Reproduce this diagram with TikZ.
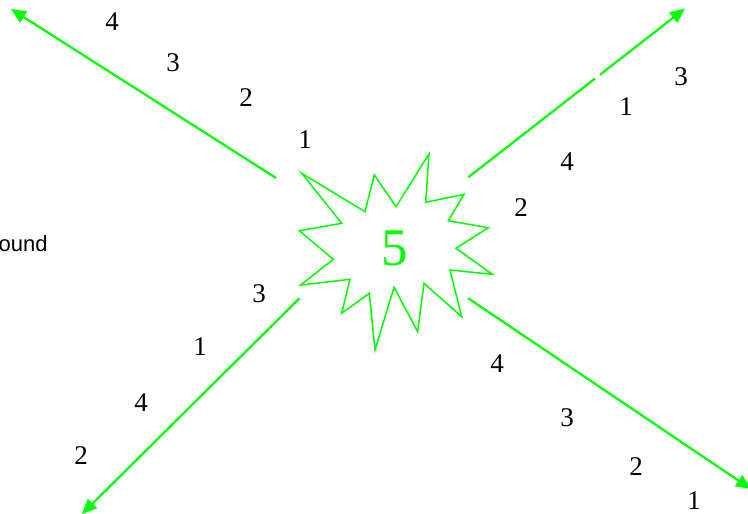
\documentclass[tikz,border=0pt]{standalone}
\usepackage{fontspec}
\setmainfont{Liberation Serif}
\newfontfamily\labsans{Liberation Sans}
\usetikzlibrary{arrows.meta}
\definecolor{burstgreen}{RGB}{0,255,0}
\tikzset{
  numlbl/.style={inner sep=0pt, font=\fontsize{27}{27}\selectfont, text=black},
  ray/.style={draw=burstgreen, line width=2.2pt},
  rayarrow/.style={ray, -{Triangle[length=15pt,width=13pt]}},
  burst/.style={draw=burstgreen, line width=1.5pt, line join=miter},
}
\begin{document}
\begin{tikzpicture}[x=1pt,y=-1pt]
\useasboundingbox (0,0) rectangle (748,514);
\clip (0,0) rectangle (748,514);

% starburst
\draw[burst] (301.7,173.3) -- (365,211.7) -- (374.3,175) -- (396,206.7) -- (429,154)
  -- (425.7,202.3) -- (464,194.3) -- (448.3,220.7) -- (488.3,227.7) -- (456,248.3)
  -- (492.3,274.3) -- (450,270) -- (461.7,316.7) -- (424,283.3) -- (417.7,331.7)
  -- (394,287.3) -- (375,350) -- (369.3,293.3) -- (341.7,313.3) -- (350,279.3)
  -- (300.7,285) -- (333.3,259.3) -- (299.3,230.7) -- (341.7,223.3) -- cycle;
\node[inner sep=0pt, text=burstgreen, font=\fontsize{53}{53}\selectfont] (five) at (394.7,248.3) {5};

% ray coordinates
\coordinate (tl0) at (276,178);
\coordinate (tl1) at (11,9);
\coordinate (tr0) at (468.3,177.3);
\coordinate (trg1) at (595,78.6);
\coordinate (trg2) at (600,74.7);
\coordinate (tr1) at (685,8.5);
\coordinate (bl0) at (299.5,298.3);
\coordinate (bl1) at (82,514);
\coordinate (br0) at (468.3,298.3);
\coordinate (br1) at (751,489);

\draw[rayarrow] (tl0) -- (tl1);
\draw[ray] (tr0) -- (trg1);
\draw[rayarrow] (trg2) -- (tr1);
\draw[rayarrow] (bl0) -- (bl1);
\draw[rayarrow] (br0) -- (br1);

% labels top-left
\node[numlbl] (tla) at (112,22) {4};
\node[numlbl] (tlb) at (173,63) {3};
\node[numlbl] (tlc) at (246,98) {2};
\node[numlbl] (tld) at (305,140) {1};
% labels top-right
\node[numlbl] (tra) at (681,77) {3};
\node[numlbl] (trb) at (626,107) {1};
\node[numlbl] (trc) at (567,162) {4};
\node[numlbl] (trd) at (521,208) {2};
% labels bottom-left
\node[numlbl] (bla) at (259,294) {3};
\node[numlbl] (blb) at (200,347) {1};
\node[numlbl] (blc) at (141,403) {4};
\node[numlbl] (bld) at (81,456) {2};
% labels bottom-right
\node[numlbl] (bra) at (497,364) {4};
\node[numlbl] (brb) at (567,418) {3};
\node[numlbl] (brc) at (636,467) {2};
\node[numlbl] (brd) at (694,501) {1};

% clipped text at left
\node[inner sep=0pt, anchor=base west, font=\labsans\fontsize{22}{22}\selectfont] (side) at (-1.5,251) {ound};
\end{tikzpicture}
\end{document}
